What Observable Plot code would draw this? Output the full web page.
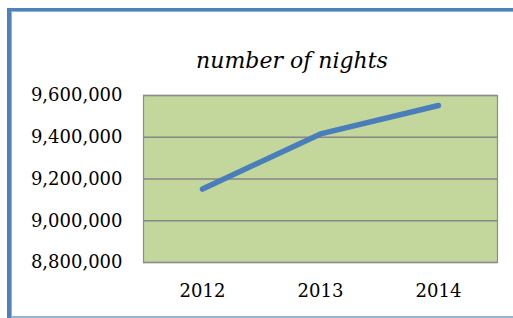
<!DOCTYPE html>
<html>
<head>
<meta charset="utf-8">
<script src="https://cdn.jsdelivr.net/npm/d3@7"></script>
<script src="https://cdn.jsdelivr.net/npm/@observablehq/plot@0.6"></script>
<style>
  html, body { margin: 0; padding: 0; background: #fff; }
  #wrap { position: relative; width: 513px; height: 318px; overflow: hidden; background: #fff; }
  .b { position: absolute; }
  #title { position: absolute; left: 0; width: 584px; top: 50px; text-align: center;
           font-family: "DejaVu Serif", serif; font-style: italic; font-size: 22px; color: #000; line-height: 1; }
  #chart { position: absolute; left: 0; top: 0; }
</style>
</head>
<body>
<div id="wrap">
  <div id="chart"></div>
  <div id="title">number of nights</div>
  <div class="b" style="left:7px; top:8px; width:4px; height:320px; background:#4f81bd;"></div>
  <div class="b" style="left:11px; top:11px; width:1px; height:320px; background:#8eb0dc;"></div>
  <div class="b" style="left:7px; top:8px; width:520px; height:3px; background:#4f81bd;"></div>
  <div class="b" style="left:11px; top:11px; width:520px; height:1px; background:#8eb0dc;"></div>
  <div class="b" style="left:11px; top:316px; width:520px; height:2px; background:#95b3d7;"></div>
</div>
<script>
const years = ["2012", "2013", "2014"];
const nights = [9152000, 9416000, 9552000];
const yTicks = [8800000, 9000000, 9200000, 9400000, 9600000];

const data = years.map((y, i) => ({year: y, value: nights[i]}));
const ff = "'DejaVu Serif', serif";

const chart = Plot.plot({
  width: 513,
  height: 318,
  marginLeft: 143,
  marginRight: 16,
  marginTop: 95,
  marginBottom: 56,
  style: { fontFamily: ff, fontSize: "18px", color: "#000", background: "transparent" },
  x: { type: "point", domain: years, padding: 0.5, label: null },
  y: { domain: [8800000, 9600000], label: null },
  marks: [
    Plot.frame({ fill: "#c3d69b", stroke: "none" }),
    Plot.ruleY(yTicks, { stroke: "#868686", strokeWidth: 1.6 }),
    Plot.frame({ stroke: "#8c8c8c", strokeWidth: 1.2, fill: "none" }),
    Plot.axisY(yTicks, { tickSize: 0, tickPadding: 21, tickFormat: d3.format(","), label: null, fontSize: 18, fontFamily: ff }),
    Plot.axisX(years, { tickSize: 0, tickPadding: 22, label: null, fontSize: 18, fontFamily: ff }),
    Plot.line(data, { x: "year", y: "value", stroke: "#4a7ebb", strokeWidth: 5.5, strokeLinecap: "round", strokeLinejoin: "round" })
  ]
});
document.getElementById("chart").appendChild(chart);
</script>
</body>
</html>
